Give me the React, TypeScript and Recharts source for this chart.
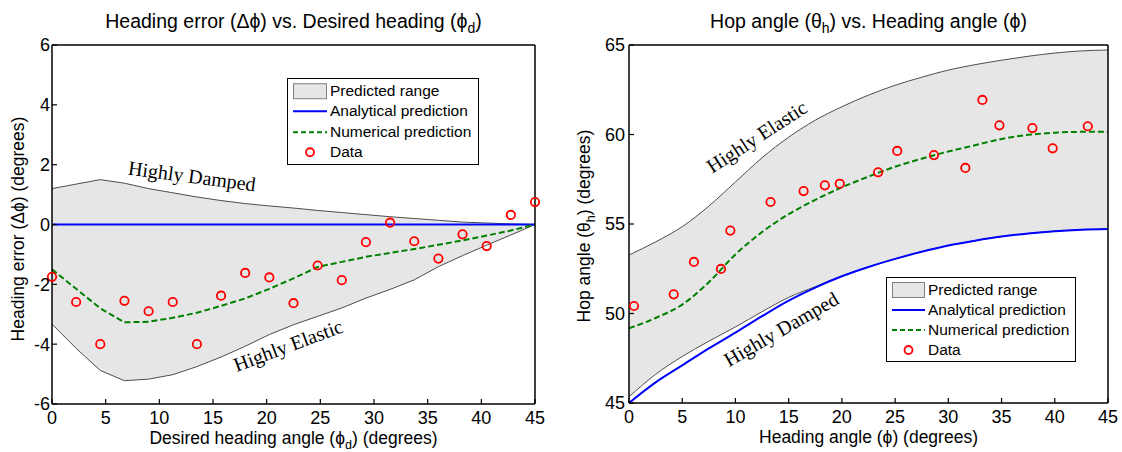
import React from 'react';
import { ComposedChart, Area, Line, Scatter, XAxis, YAxis, Legend, ReferenceDot } from 'recharts';

// ---------- Left chart: heading error vs desired heading ----------
const headingX = [0, 2.25, 4.5, 6.75, 9, 11.25, 13.5, 15.75, 18, 20.25, 22.5, 24.75, 27, 29.25, 31.5, 33.75, 36, 38.25, 40.5, 42.75, 45];
const headingUpper = [1.2, 1.35, 1.5, 1.38, 1.2, 1.06, 0.92, 0.8, 0.7, 0.62, 0.55, 0.47, 0.4, 0.33, 0.26, 0.2, 0.14, 0.08, 0.05, 0.02, 0];
const headingLower = [-3.33, -4.14, -4.88, -5.22, -5.17, -5.02, -4.75, -4.43, -4.07, -3.68, -3.35, -3.07, -2.79, -2.46, -2.17, -1.85, -1.41, -1.04, -0.69, -0.35, 0];
const headingAnalytical = [0, 0, 0, 0, 0, 0, 0, 0, 0, 0, 0, 0, 0, 0, 0, 0, 0, 0, 0, 0, 0];
const headingNumerical = [-1.5, -2.15, -2.8, -3.27, -3.25, -3.12, -2.95, -2.72, -2.47, -2.15, -1.8, -1.42, -1.25, -1.08, -0.95, -0.82, -0.68, -0.53, -0.37, -0.2, 0];
const headingDataY = [-1.75, -2.59, -4.0, -2.55, -2.9, -2.59, -4.0, -2.38, -1.62, -1.77, -2.63, -1.37, -1.86, -0.59, 0.06, -0.56, -1.14, -0.33, -0.72, 0.32, 0.75];
const headingXTicks = [0, 5, 10, 15, 20, 25, 30, 35, 40, 45];
const headingYTicks = [-6, -4, -2, 0, 2, 4, 6];

// ---------- Right chart: hop angle vs heading angle ----------
const hopX = [0, 2.5, 5, 7.5, 10, 12.5, 15, 17.5, 20, 22.5, 25, 27.5, 30, 32.5, 35, 37.5, 40, 42.5, 45];
const hopUpper = [53.27, 54.0, 54.85, 56.0, 57.35, 58.7, 59.85, 60.8, 61.55, 62.2, 62.75, 63.2, 63.6, 63.9, 64.15, 64.37, 64.55, 64.67, 64.72];
const hopLower = [45.35, 46.6, 47.6, 48.45, 49.25, 50.1, 50.9, 51.5, 52.1, 52.6, 53.05, 53.45, 53.8, 54.07, 54.3, 54.47, 54.6, 54.68, 54.72];
const hopAnalytical = [45.0, 46.15, 47.1, 48.05, 48.93, 49.85, 50.72, 51.45, 52.08, 52.6, 53.05, 53.45, 53.8, 54.07, 54.3, 54.47, 54.6, 54.68, 54.72];
const hopNumerical = [49.17, 49.75, 50.5, 51.75, 53.3, 54.55, 55.55, 56.35, 57.05, 57.65, 58.2, 58.65, 59.05, 59.4, 59.75, 59.98, 60.1, 60.15, 60.16];
const hopDataX = [0.47, 4.2, 6.1, 8.64, 9.52, 13.3, 16.4, 18.4, 19.8, 23.4, 25.2, 28.65, 31.6, 33.2, 34.8, 37.9, 39.8, 43.1];
const hopDataY = [50.42, 51.07, 52.88, 52.49, 54.63, 56.23, 56.84, 57.16, 57.25, 57.89, 59.08, 58.85, 58.13, 61.93, 60.51, 60.36, 59.23, 60.46];
const hopXTicks = [0, 5, 10, 15, 20, 25, 30, 35, 40, 45];
const hopYTicks = [45, 50, 55, 60, 65];

const legendLabels = ['Predicted range', 'Analytical prediction', 'Numerical prediction', 'Data'];

const SANS = "'Liberation Sans', Arial, Helvetica, sans-serif";
const SERIF = "'Liberation Serif', 'Times New Roman', serif";
const FILL = '#e6e6e6';
const EDGE = '#4d4d4d';
const BLUE = '#0000ff';
const GREEN = '#008000';
const RED = '#ff0000';

const headingRows = headingX.map((x, i) => ({
  x,
  upper: headingUpper[i],
  lower: headingLower[i],
  range: [headingLower[i], headingUpper[i]],
  analytical: headingAnalytical[i],
  numerical: headingNumerical[i],
}));
const headingPoints = headingX.map((x, i) => ({ x, y: headingDataY[i] }));

const hopRows = hopX.map((x, i) => ({
  x,
  upper: hopUpper[i],
  lower: hopLower[i],
  range: [hopLower[i], hopUpper[i]],
  analytical: hopAnalytical[i],
  numerical: hopNumerical[i],
}));
const hopPoints = hopDataX.map((x, i) => ({ x, y: hopDataY[i] }));

const Circle = (p: any) => {
  if (p.cx == null || p.cy == null) return <g />;
  return <circle cx={p.cx} cy={p.cy} r={4.2} fill="none" stroke={RED} strokeWidth={1.8} />;
};

const RotText = (p: any) => {
  const vb = p.viewBox || { x: 0, y: 0, width: 0, height: 0 };
  const cx = vb.x + (vb.width || 0) / 2;
  const cy = vb.y + (vb.height || 0) / 2;
  return (
    <text x={cx} y={cy} textAnchor="middle" dominantBaseline="central"
      transform={`rotate(${p.rot} ${cx} ${cy})`} fontFamily={SERIF} fontSize={20} fill="#000">
      {p.txt}
    </text>
  );
};

// text with subscripts: parts = [[text, isSub], ...]
const renderParts = (parts: any[], size: number) => {
  const out: any[] = [];
  let shifted = false;
  parts.forEach((pt, i) => {
    const [t, sub] = pt;
    if (sub) {
      out.push(<tspan key={i} dy={size * 0.28} fontSize={size * 0.72}>{t}</tspan>);
      shifted = true;
    } else {
      out.push(<tspan key={i} dy={shifted ? -size * 0.28 : 0}>{t}</tspan>);
      shifted = false;
    }
  });
  return out;
};

const HLabel = (p: any) => {
  const vb = p.viewBox || { x: 0, y: 0, width: 0, height: 0 };
  const x = vb.x + vb.width / 2 + (p.ox || 0);
  const y = vb.y + p.oy;
  return (
    <text x={x} y={y} textAnchor="middle" fontFamily={SANS} fontSize={p.size} fill="#000">
      {renderParts(p.parts, p.size)}
    </text>
  );
};

const VLabel = (p: any) => {
  const vb = p.viewBox || { x: 0, y: 0, width: 0, height: 0 };
  const x = vb.x + p.ox;
  const y = vb.y + vb.height / 2 + p.oy;
  return (
    <text x={x} y={y} textAnchor="middle" transform={`rotate(-90 ${x} ${y})`} fontFamily={SANS} fontSize={p.size} fill="#000">
      {renderParts(p.parts, p.size)}
    </text>
  );
};

const LegendBox = (p: any) => {
  const { w, h, rowH, padTop, sampleX, sampleW, textX } = p;
  const mid = rowH / 2;
  return (
    <div style={{ width: w, height: h, boxSizing: 'border-box', border: '1.3px solid #000', background: '#fff', position: 'relative', fontFamily: SANS, fontSize: 15.5, color: '#000' }}>
      {legendLabels.map((label, i) => (
        <div key={label} style={{ position: 'absolute', left: 0, top: padTop + i * rowH, height: rowH, width: '100%' }}>
          <svg style={{ position: 'absolute', left: sampleX, top: 0 }} width={sampleW} height={rowH}>
            {i === 0 && <rect x={0.5} y={mid - 7.5} width={sampleW - 1} height={15} fill={FILL} stroke="#7f7f7f" strokeWidth={1} />}
            {i === 1 && <line x1={0} x2={sampleW} y1={mid} y2={mid} stroke={BLUE} strokeWidth={2} />}
            {i === 2 && <line x1={0} x2={sampleW} y1={mid} y2={mid} stroke={GREEN} strokeWidth={2} strokeDasharray="5 3" />}
            {i === 3 && <circle cx={sampleW / 2} cy={mid} r={4} fill="none" stroke={RED} strokeWidth={1.8} />}
          </svg>
          <span style={{ position: 'absolute', left: textX, top: 0, lineHeight: rowH + 'px', whiteSpace: 'nowrap' }}>{label}</span>
        </div>
      ))}
    </div>
  );
};

const tickStyle = { fill: '#000', fontSize: 18, fontFamily: SANS };
const axisLine = { stroke: '#000', strokeWidth: 1.5 };
const tickLine = { stroke: '#000', strokeWidth: 1.2 };

export default function App() {
  return (
    <div style={{ position: 'absolute', left: 0, top: 0, width: 1122, height: 452, background: '#fff' }}>
      <div style={{ position: 'absolute', left: 0, top: 0 }}>
        <ComposedChart width={560} height={452} data={headingRows} margin={{ top: 44, right: 24, bottom: 8, left: 12 }}>
          <XAxis xAxisId={0} dataKey="x" type="number" domain={[0, 45]} ticks={headingXTicks} interval={0}
            height={40} tickSize={-5} tickMargin={12} tick={tickStyle} axisLine={axisLine} tickLine={tickLine}
            label={<HLabel size={17.5} oy={40} parts={[['Desired heading angle (\u03D5', false], ['d', true], [') (degrees)', false]]} />} />
          <XAxis xAxisId="top" orientation="top" dataKey="x" type="number" domain={[0, 45]} ticks={headingXTicks} interval={0}
            height={1} tickSize={-5} tick={false} axisLine={axisLine} tickLine={tickLine}
            label={<HLabel size={19.5} oy={-16.5} parts={[['Heading error (\u0394\u03D5) vs. Desired heading (\u03D5', false], ['d', true], [')', false]]} />} />
          <YAxis yAxisId={0} type="number" domain={[-6, 6]} ticks={headingYTicks} interval={0}
            width={40} tickSize={-5} tickMargin={7} tick={tickStyle} axisLine={axisLine} tickLine={tickLine}
            label={<VLabel size={17.5} ox={12} oy={4.5} parts={[['Heading error (\u0394\u03D5) (degrees)', false]]} />} />
          <YAxis yAxisId="right" orientation="right" type="number" domain={[-6, 6]} ticks={headingYTicks} interval={0}
            width={1} tickSize={-5} tick={false} axisLine={axisLine} tickLine={tickLine} />
          <Area type="linear" dataKey="range" fill={FILL} fillOpacity={1} stroke="none" isAnimationActive={false} legendType="none" />
          <Line type="linear" dataKey="upper" stroke={EDGE} strokeWidth={1} dot={false} isAnimationActive={false} legendType="none" />
          <Line type="linear" dataKey="lower" stroke={EDGE} strokeWidth={1} dot={false} isAnimationActive={false} legendType="none" />
          <Line type="linear" dataKey="analytical" stroke={BLUE} strokeWidth={2} dot={false} isAnimationActive={false} />
          <Line type="linear" dataKey="numerical" stroke={GREEN} strokeWidth={2} strokeDasharray="6 3" dot={false} isAnimationActive={false} />
          <Scatter data={headingPoints} dataKey="y" shape={Circle} isAnimationActive={false} />
          <ReferenceDot x={13.05} y={1.62} r={0} fill="none" stroke="none" label={<RotText txt="Highly Damped" rot={7.5} />} />
          <ReferenceDot x={22.0} y={-4.04} r={0} fill="none" stroke="none" label={<RotText txt="Highly Elastic" rot={-20.5} />} />
          <Legend layout="vertical" align="center" verticalAlign="middle"
            wrapperStyle={{ left: 287, top: 78, width: 192, height: 87 }}
            content={() => <LegendBox w={192} h={87} rowH={20.5} padTop={1.5} sampleX={5} sampleW={34} textX={42} />} />
        </ComposedChart>
      </div>
      <div style={{ position: 'absolute', left: 560, top: 0 }}>
        <ComposedChart width={560} height={452} data={hopRows} margin={{ top: 44, right: 11, bottom: 9, left: 19 }}>
          <XAxis xAxisId={0} dataKey="x" type="number" domain={[0, 45]} ticks={hopXTicks} interval={0}
            height={40} tickSize={-5} tickMargin={12} tick={tickStyle} axisLine={axisLine} tickLine={tickLine}
            label={<HLabel size={17.5} oy={40} parts={[['Heading angle (\u03D5) (degrees)', false]]} />} />
          <XAxis xAxisId="top" orientation="top" dataKey="x" type="number" domain={[0, 45]} ticks={hopXTicks} interval={0}
            height={1} tickSize={-5} tick={false} axisLine={axisLine} tickLine={tickLine}
            label={<HLabel size={19.5} oy={-16.5} parts={[['Hop angle (\u03B8', false], ['h', true], [') vs. Heading angle (\u03D5)', false]]} />} />
          <YAxis yAxisId={0} type="number" domain={[45, 65]} ticks={hopYTicks} interval={0}
            width={50} tickSize={-5} tickMargin={9} tick={tickStyle} axisLine={axisLine} tickLine={tickLine}
            label={<VLabel size={17.5} ox={11} oy={2} parts={[['Hop angle (\u03B8', false], ['h', true], [') (degrees)', false]]} />} />
          <YAxis yAxisId="right" orientation="right" type="number" domain={[45, 65]} ticks={hopYTicks} interval={0}
            width={1} tickSize={-5} tick={false} axisLine={axisLine} tickLine={tickLine} />
          <Area type="monotone" dataKey="range" fill={FILL} fillOpacity={1} stroke="none" isAnimationActive={false} legendType="none" />
          <Line type="monotone" dataKey="upper" stroke={EDGE} strokeWidth={1} dot={false} isAnimationActive={false} legendType="none" />
          <Line type="monotone" dataKey="lower" stroke={EDGE} strokeWidth={1} dot={false} isAnimationActive={false} legendType="none" />
          <Line type="monotone" dataKey="analytical" stroke={BLUE} strokeWidth={2} dot={false} isAnimationActive={false} />
          <Line type="monotone" dataKey="numerical" stroke={GREEN} strokeWidth={2} strokeDasharray="6 3" dot={false} isAnimationActive={false} />
          <Scatter data={hopPoints} dataKey="y" shape={Circle} isAnimationActive={false} />
          <ReferenceDot x={12.0} y={59.88} r={0} fill="none" stroke="none" label={<RotText txt="Highly Elastic" rot={-33} />} />
          <ReferenceDot x={14.28} y={49.13} r={0} fill="none" stroke="none" label={<RotText txt="Highly Damped" rot={-30} />} />
          <Legend layout="vertical" align="center" verticalAlign="middle"
            wrapperStyle={{ left: 326, top: 277, width: 190, height: 85 }}
            content={() => <LegendBox w={190} h={85} rowH={20} padTop={1.5} sampleX={5} sampleW={33} textX={41} />} />
        </ComposedChart>
      </div>
    </div>
  );
}
